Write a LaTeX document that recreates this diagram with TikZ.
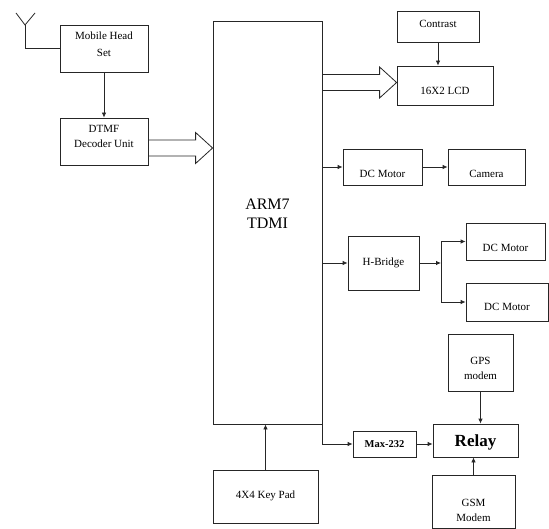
\documentclass[tikz,border=0pt]{standalone}
\usepackage{fontspec}
\setmainfont{Liberation Serif}
\usepackage{tikz}
\usetikzlibrary{arrows.meta, positioning}

% hollow wide arrow from one node to another at height #3
\newcommand{\fatarrow}[3]{%
  \draw[fat] (#1.east |- 0,#3-8) -- ([xshift=-17pt]#2.west |- 0,#3-8)
    -- ([xshift=-17pt]#2.west |- 0,#3-15.5) -- (#2.west |- 0,#3)
    -- ([xshift=-17pt]#2.west |- 0,#3+15.5) -- ([xshift=-17pt]#2.west |- 0,#3+8)
    -- (#1.east |- 0,#3+8);}
% box text, raised by #1
\newcommand{\lbl}[2]{\raisebox{#1}{\begin{tabular}{@{}c@{}}#2\end{tabular}}}

\begin{document}
\begin{tikzpicture}[
  x=1pt, y=-1pt,
  box/.style={draw, inner sep=2pt, text height=0pt, text depth=0pt, font=\fontsize{11}{15}\selectfont},
  arr/.style={-{Latex[length=5pt,width=4.5pt]}},
  fat/.style={line join=miter}
]
\useasboundingbox (0,0) rectangle (549,529);
\tikzset{every path/.style={line width=0.8pt, draw=black!85}}

\node[box, minimum width=88pt, minimum height=47pt] (headset) at (104,48.5) {\lbl{1.1pt}{Mobile Head\\[2pt]Set}};
\node[box, minimum width=88pt, minimum height=47pt] (dtmf) at (104,141.5) {\lbl{2.1pt}{DTMF\\Decoder Unit}};
\node[box, minimum width=109pt, minimum height=403pt, font=\fontsize{16}{19}\selectfont] (arm) at (267.5,222.5) {\lbl{2.8pt}{ARM7\\TDMI}};
\node[box, minimum width=82pt, minimum height=31pt] (contrast) at (438,26.5) {\lbl{-0.9pt}{Contrast}};
\node[box, minimum width=96pt, minimum height=39pt] (lcd) at (445,85.5) {\lbl{-8.9pt}{16X2 LCD}};
\node[box, minimum width=79pt, minimum height=36pt] (motor1) at (382.5,167) {\lbl{-10.4pt}{DC Motor}};
\node[box, minimum width=77pt, minimum height=36pt] (camera) at (486.5,167) {\lbl{-10.4pt}{Camera}};
\node[box, minimum width=71pt, minimum height=54pt] (hbridge) at (383.5,263) {\lbl{-2.4pt}{H-Bridge}};
\node[box, minimum width=79pt, minimum height=37pt] (motor2) at (505.5,241.5) {\lbl{-9.9pt}{DC Motor}};
\node[box, minimum width=82pt, minimum height=38pt] (motor3) at (507,302) {\lbl{-8.4pt}{DC Motor}};
\node[box, minimum width=65pt, minimum height=57pt] (gps) at (480.5,362.5) {\lbl{-8.9pt}{GPS\\modem}};
\node[box, minimum width=85pt, minimum height=33pt, font=\fontsize{17}{20}\selectfont\bfseries] (relay) at (475.5,440.5) {\lbl{-6.4pt}{Relay}};
\node[box, minimum width=63pt, minimum height=26pt, font=\fontsize{10.5}{13}\selectfont\bfseries] (max) at (384.5,444) {\lbl{-4pt}{Max-232}};
\node[box, minimum width=83pt, minimum height=53pt] (gsm) at (473.5,501.5) {\lbl{-11.9pt}{GSM\\Modem}};
\node[box, minimum width=105pt, minimum height=53pt] (keypad) at (265.5,496.5) {\lbl{-1.9pt}{4X4 Key Pad}};

% antenna
\coordinate (ant) at (25,25);
\draw (headset.west) -| (ant);
\draw (16,13) -- (ant) -- (35,13);

\draw[arr] (headset) -- (dtmf);
\fatarrow{dtmf}{arm}{148}
\fatarrow{arm}{lcd}{82.5}
\draw[arr] (contrast.south) -- (contrast.south |- lcd.north);
\draw[arr] (arm.east |- motor1.west) -- (motor1.west);
\draw[arr] (motor1) -- (camera);
\draw[arr] (arm.east |- hbridge.west) -- (hbridge.west);
\coordinate (split) at (441,263);
\draw[arr] (hbridge.east) -- (split);
\draw[arr] (split) |- (motor2.west);
\draw[arr] (split) |- (motor3.west);
\draw[arr] (arm.south east) |- (max.west);
\draw[arr] (max.east) -- (max.east -| relay.west);
\draw[arr] (gps.south) -- (gps.south |- relay.north);
\draw[arr] (gsm.north) -- (gsm.north |- relay.south);
\draw[arr] (keypad.north) -- (keypad.north |- arm.south);
\end{tikzpicture}
\end{document}
